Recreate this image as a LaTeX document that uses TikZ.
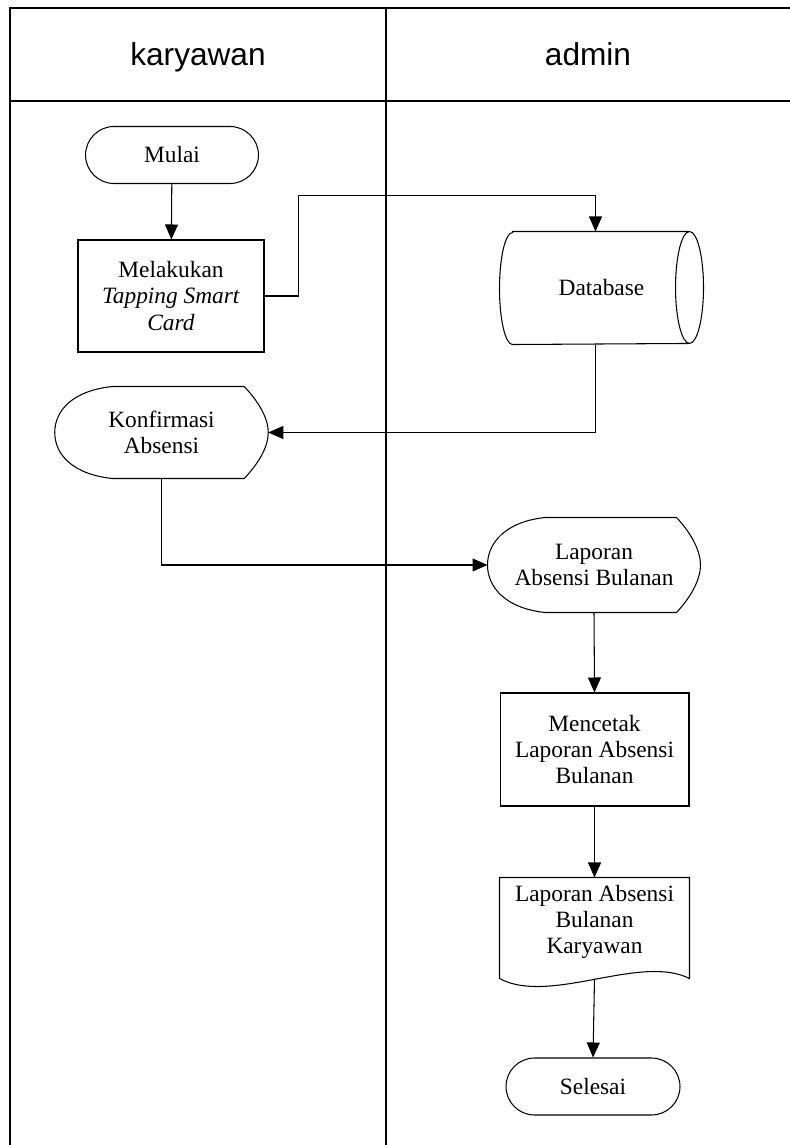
\documentclass[tikz,border=0pt]{standalone}
\usepackage{fontspec}
\setmainfont{Liberation Serif}
\newfontfamily\headfont{Liberation Sans}
\usepackage{tikz}
\usetikzlibrary{arrows.meta,positioning,calc}

\begin{document}
\begin{tikzpicture}[
    x=0.02cm, y=0.02cm, line width=0.6pt,
    lane/.style={line width=0.8pt},
    head/.style={anchor=base, font=\headfont\fontsize{18}{20}\selectfont},
    terminal/.style={rectangle, draw, rounded corners=0.57cm, minimum width=3.46cm, minimum height=1.14cm, font=\fontsize{13.3}{15}\selectfont},
    process/.style={rectangle, draw, minimum width=3.78cm, minimum height=2.26cm, inner sep=1pt, align=center, font=\fontsize{13.3}{15}\selectfont},
    displaybox/.style={rectangle, minimum width=4.25cm, minimum height=1.85cm, inner sep=0pt, align=center, font=\fontsize{13.3}{15}\selectfont,
        append after command={\pgfextra{\draw
            ($(\tikzlastnode.north west)+(58,0)$) -- ($(\tikzlastnode.north east)+(-24,0)$)
            .. controls +(15,-16) and +(0,14) .. (\tikzlastnode.east)
            .. controls +(0,-14) and +(15,16) .. ($(\tikzlastnode.south east)+(-24,0)$)
            -- ($(\tikzlastnode.south west)+(58,0)$)
            .. controls +(-40,4) and +(0,-22) .. (\tikzlastnode.west)
            .. controls +(0,22) and +(-40,-4) .. cycle;}}},
    dbbox/.style={rectangle, minimum width=4.06cm, minimum height=2.24cm, inner sep=0pt, align=center, font=\fontsize{13.3}{15}\selectfont,
        append after command={\pgfextra{\draw
            ($(\tikzlastnode.north west)+(13,0)$) -- ($(\tikzlastnode.north east)+(-14,0)$)
            arc[start angle=90, end angle=-90, x radius=0.28cm, y radius=1.12cm]
            -- ($(\tikzlastnode.south west)+(13,0)$)
            arc[start angle=270, end angle=90, x radius=0.26cm, y radius=1.12cm] -- cycle;
          \draw ($(\tikzlastnode.north east)+(-14,0)$)
            arc[start angle=90, end angle=270, x radius=0.28cm, y radius=1.12cm];}}},
    docbox/.style={rectangle, minimum width=3.78cm, minimum height=1.76cm, inner sep=0pt, align=center, font=\fontsize{13.3}{15}\selectfont,
        append after command={\pgfextra{\draw
            ($(\tikzlastnode.south west)+(0,-12)$) -- (\tikzlastnode.north west) -- (\tikzlastnode.north east) -- ($(\tikzlastnode.south east)+(0,-12)$)
            .. controls +(-49,25) and +(50,-27) .. ($(\tikzlastnode.south west)+(0,-12)$);}}},
    arrow/.style={-{Triangle[length=3mm, width=2.6mm]}}
]
\useasboundingbox (0,0) rectangle (790,-1145);

% swimlanes
\draw[lane] (10,-1145) -- (10,-8) -- (790,-8);
\draw[lane] (10,-101) -- (790,-101);
\draw[lane] (386,-8) -- (386,-1145);
\node[head] (hkaryawan) at (198,-66) {karyawan};
\node[head] (hadmin) at (588,-66) {admin};

% karyawan
\node[terminal] (mulai) at (172,-155) {Mulai};
\node[process, minimum width=3.72cm, minimum height=2.24cm] (tapping) at (171,-296) {Melakukan\\\textit{Tapping Smart}\\\textit{Card}};
\node[displaybox, minimum height=1.82cm] (konfirmasi) at (161.5,-432.5) {Konfirmasi\\Absensi};

% admin
\node[dbbox] (database) at (601.5,-288) {Database};
\node[displaybox, minimum width=4.24cm, minimum height=1.88cm] (laporan) at (594,-565) {Laporan\\Absensi Bulanan};
\node[process] (cetak) at (594.5,-749.5) {Mencetak\\Laporan Absensi\\Bulanan};
\node[docbox] (dokumen) at (594.5,-922) {Laporan Absensi\\Bulanan\\Karyawan};
\node[terminal, minimum width=3.48cm] (selesai) at (593,-1086.5) {Selesai};

\draw[arrow] (mulai) -- (tapping);
\draw[arrow] (tapping.east) -- ++(34,0) |- ($(database.north)+(-6,36)$) -- ($(database.north)+(-6,0)$);
\draw[arrow] ($(database.south)+(-6,0)$) |- (konfirmasi.east);
\draw[arrow] (konfirmasi.south) |- (laporan.west);
\draw[arrow] (laporan.south) -- (cetak.north);
\draw[arrow] (cetak) -- (dokumen);
\draw[arrow] ($(dokumen.south)+(0,-12)$) -- (selesai.north);
\end{tikzpicture}
\end{document}
